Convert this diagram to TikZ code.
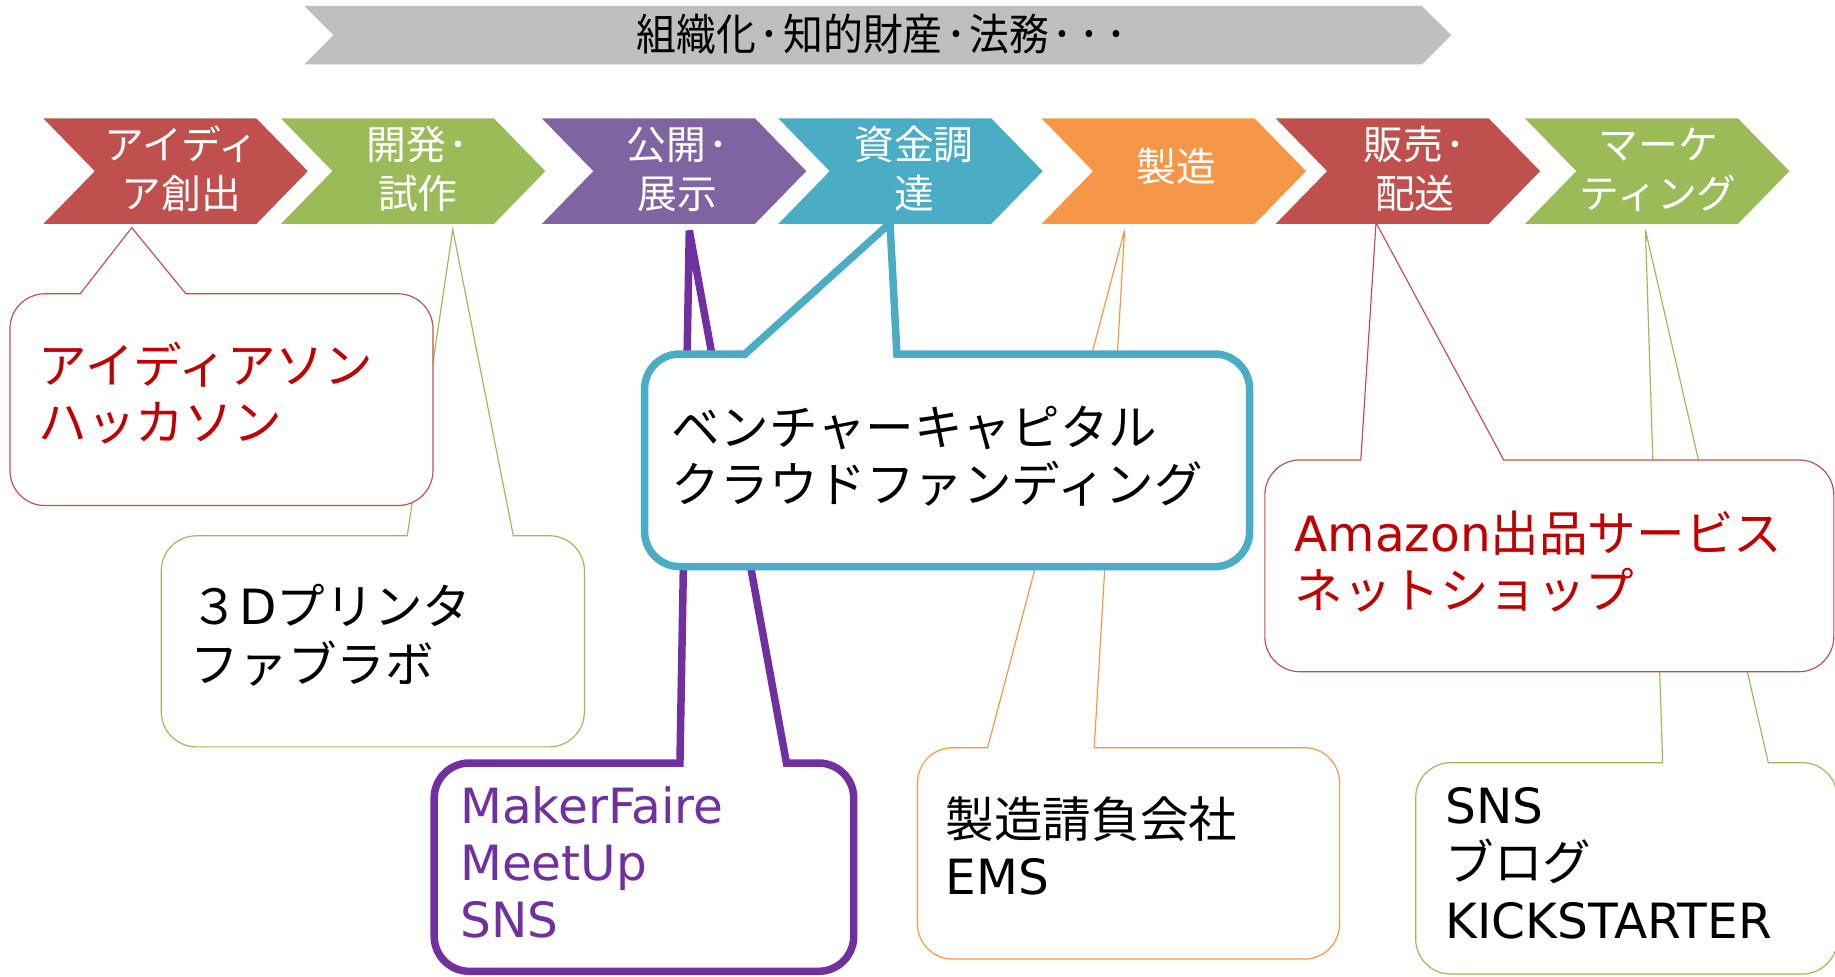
\documentclass[tikz,border=0pt]{standalone}
\usepackage{fontspec}
\setmainfont{Noto Sans CJK JP}
\newfontfamily\lat{DejaVu Sans}
\newfontfamily\condjp[FakeStretch=0.92]{Noto Sans CJK JP}
\definecolor{cRed}{HTML}{C0504D}
\definecolor{cGreen}{HTML}{9BBB59}
\definecolor{cPurple}{HTML}{8064A2}
\definecolor{cBlue}{HTML}{4BACC6}
\definecolor{cOrange}{HTML}{F79646}
\definecolor{cGray}{HTML}{BFBFBF}
\definecolor{tRed}{HTML}{C00000}
\definecolor{tPurple}{HTML}{7030A0}
\newcommand\gdot{\kern3pt･\kern3pt}
% callout: style, L, T, R, B, base-left x, tip x, tip y, base-right x
\newcommand\callout[9]{%
  \draw[#1] (#9,-#3) -- ({#4-30},-#3) arc[start angle=90,end angle=0,radius=30pt]
   -- (#4,{-#5+30}) arc[start angle=0,end angle=-90,radius=30pt]
   -- ({#2+30},-#5) arc[start angle=270,end angle=180,radius=30pt]
   -- (#2,{-#3-30}) arc[start angle=180,end angle=90,radius=30pt]
   -- (#6,-#3) -- (#7,-#8) -- cycle;}
% chevron: colour, left x
\newcommand\chev[2]{%
  \fill[#1] (#2,-101.1) -- ({#2+182},-101.1) -- ({#2+226},-146.25) -- ({#2+182},-191.4)
   -- (#2,-191.4) -- ({#2+44},-146.25) -- cycle;}
\begin{document}
\begin{tikzpicture}[x=1pt,y=1pt,
  thinbox/.style={fill=white,line width=1pt},
  thickbox/.style={fill=white,line width=6.4pt},
  ctext/.style={anchor=base west,inner sep=0pt,align=left,font=\fontsize{41.5}{49}\selectfont},
  chtext/.style={anchor=base,inner sep=0pt,align=center,text=white,font=\fontsize{34}{42}\selectfont}]
\useasboundingbox (0,0) rectangle (1568,-834);
\fill[white] (0,0) rectangle (1568,-834);
% top gray arrow
\fill[cGray] (260,-5.1) -- (1215,-5.1) -- (1240,-30) -- (1215,-55) -- (260,-55) -- (285,-30) -- cycle;
\node[anchor=base,inner sep=0pt,font=\fontsize{37}{42}\selectfont\condjp] (top) at (755,-43.5) {組織化\gdot 知的財産\gdot 法務\gdot\gdot\gdot};
% chevrons
\chev{cRed}{37}
\chev{cGreen}{240}
\chev{cPurple}{463}
\chev{cBlue}{665}
\chev{cOrange}{890}
\chev{cRed}{1090}
\chev{cGreen}{1303}
\node[chtext] (s1) at (155,-178.5) {アイディ\\ア創出};
\node[chtext] (s2) at (357,-178.5) {開発\kern2pt･\\試作};
\node[chtext] (s3) at (579,-178.5) {公開\kern2pt･\\展示};
\node[chtext] (s4) at (781,-178.5) {資金調\\達};
\node[chtext] (s5) at (1005,-155.5) {製造};
\node[chtext] (s6) at (1209,-178.5) {販売\kern2pt･\\配送};
\node[chtext] (s7) at (1417,-178.5) {マーケ\\ティング};
% green callout (3D printer)
\callout{thinbox,draw=cGreen}{137.8}{457.8}{499.4}{638.2}{348}{386.9}{196.2}{438.6}
\node[ctext] (c2) at (163,-583) {３{\lat D}プリンタ\\ファブラボ};
% red callout (ideathon)
\callout{thinbox,draw=cRed}{8.5}{251}{370}{432}{68.6}{112.6}{194.5}{158.8}
\node[ctext,text=tRed] (c1) at (33,-376.5) {アイディアソン\\ハッカソン};
% purple callout
\callout{thickbox,draw=tPurple}{371}{652}{729.5}{830}{581}{589}{197}{672}
\node[ctext,text=tPurple,font=\fontsize{41.5}{49}\selectfont\lat] (c3) at (393,-801.5) {MakerFaire\\MeetUp\\SNS};
% orange callout
\callout{thinbox,draw=cOrange}{784}{638.9}{1144.7}{819.5}{843.9}{961}{196.5}{935}
\node[ctext] (c5) at (808,-764.5) {製造請負会社\\{\lat EMS}};
% blue callout
\callout{thickbox,draw=cBlue}{550.8}{302.5}{1067.8}{484.2}{636.6}{760.5}{190.7}{766.4}
\node[ctext] (c4) at (574,-429.5) {ベンチャーキャピタル\\クラウドファンディング};
% green callout (marketing)
\callout{thinbox,draw=cGreen}{1209.7}{651.7}{1570}{832.3}{1420.7}{1406}{196.5}{1511}
\node[ctext] (c7) at (1235,-801.6) {{\lat SNS}\\ブログ\\{\lat KICKSTARTER}};
% red callout (sales)
\callout{thinbox,draw=cRed}{1080.8}{393}{1567}{574}{1162.8}{1175.8}{190.3}{1284.9}
\node[ctext,text=tRed] (c6) at (1106,-520) {{\lat Amazon}出品サービス\\ネットショップ};
\end{tikzpicture}
\end{document}
